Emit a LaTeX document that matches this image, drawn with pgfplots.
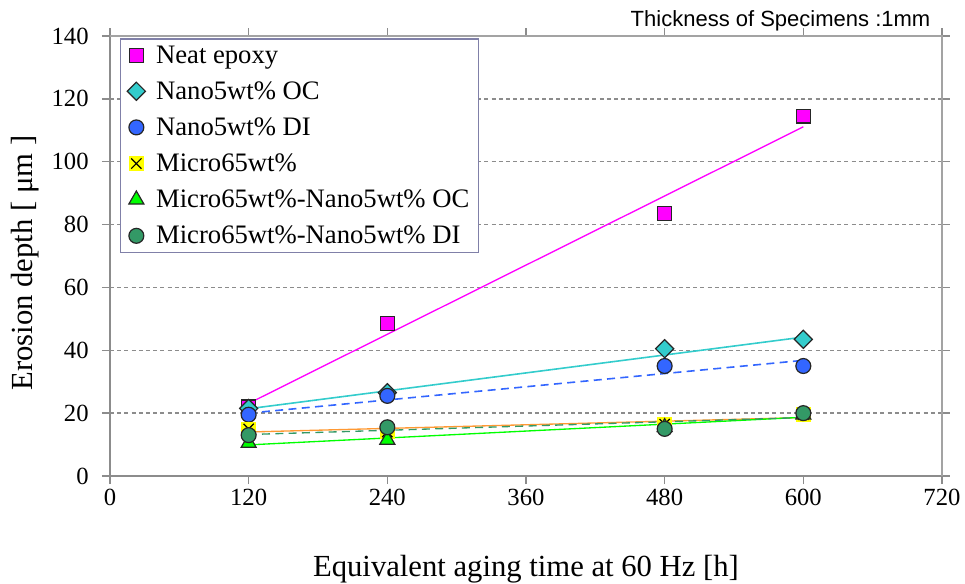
\documentclass[border=0pt]{standalone}
\usepackage{fontspec}
\setmainfont{Liberation Serif}
\setsansfont{Liberation Sans}
\usepackage{pgfplots}
\pgfplotsset{compat=1.18}

\definecolor{neat}{HTML}{FF00FF}
\definecolor{oc}{HTML}{33CCCC}
\definecolor{di}{HTML}{3366FF}
\definecolor{micro}{HTML}{FFFF00}
\definecolor{mnoc}{HTML}{00FF00}
\definecolor{mndi}{HTML}{339966}
\definecolor{trendor}{HTML}{FF9933}
\definecolor{axgray}{HTML}{8C8C8C}
\definecolor{legframe}{HTML}{8080A8}

% yellow square with black cross (Micro65wt%)
\pgfdeclareplotmark{ysq}{%
  \pgfpathrectangle{\pgfqpoint{-\pgfplotmarksize}{-\pgfplotmarksize}}{\pgfqpoint{2\pgfplotmarksize}{2\pgfplotmarksize}}%
  \pgfsetfillcolor{micro}\pgfusepathqfill
  \pgfsetstrokecolor{black}%
  \pgfpathmoveto{\pgfqpoint{-.7\pgfplotmarksize}{-.7\pgfplotmarksize}}%
  \pgfpathlineto{\pgfqpoint{.7\pgfplotmarksize}{.7\pgfplotmarksize}}%
  \pgfpathmoveto{\pgfqpoint{-.7\pgfplotmarksize}{.7\pgfplotmarksize}}%
  \pgfpathlineto{\pgfqpoint{.7\pgfplotmarksize}{-.7\pgfplotmarksize}}%
  \pgfusepathqstroke}

\begin{document}
\begin{tikzpicture}
\useasboundingbox (-82.5pt,-80.25pt) rectangle (641.25pt,357pt);
\begin{axis}[
    at={(0,0)}, anchor=south west,
    scale only axis,
    width=624pt, height=330pt,
    xmin=0, xmax=720, ymin=0, ymax=140,
    xtick={0,120,...,720}, ytick={0,20,...,140},
    /pgf/number format/assume math mode=true,
    tick label style={font=\fontsize{18.5}{20}\selectfont},
    yticklabel style={xshift=-6.5pt},
    tick align=outside, major tick length=6pt,
    tick style={axgray, line width=1pt},
    axis line style={axgray, line width=1pt},
    ymajorgrids,
    grid style={axgray, line width=1pt, dash pattern=on 3pt off 2.4pt},
    xlabel={Equivalent aging time at 60 Hz [h]},
    ylabel={Erosion depth [ μm ]},
    label style={font=\fontsize{23}{26}\selectfont},
    xlabel style={at={(axis description cs:0.5,0)}, anchor=center, yshift=-70pt},
    ylabel style={at={(axis description cs:-0.1022,0.484)}, anchor=center},
    legend style={at={(0.012,0.995)}, anchor=north west,
        draw=legframe, line width=1pt, fill=white,
        font=\fontsize{20}{22}\selectfont,
        row sep=8.3pt, inner xsep=5pt, inner ysep=3pt,
        cells={anchor=west}},
    legend cell align=left,
    clip=false,
]
% trend lines (least-squares fits of the read points)
\addplot[neat, line width=1pt, forget plot] coordinates {(120,23.1)(600,111.1)};
\addplot[oc, line width=1.2pt, forget plot] coordinates {(120,21.4)(600,44.2)};
\addplot[di, line width=1.2pt, dash pattern=on 6pt off 4pt, forget plot] coordinates {(120,20.0)(600,36.8)};
\addplot[trendor, line width=1pt, forget plot] coordinates {(120,14.0)(600,18.6)};
\addplot[mnoc, line width=1pt, forget plot] coordinates {(120,9.9)(600,18.7)};
\addplot[mndi, line width=1pt, dash pattern=on 6pt off 4pt, forget plot] coordinates {(120,13.2)(600,18.6)};

% measured points
\addplot[only marks, mark=square*, mark size=5.2pt,
    mark options={fill=neat, draw=black!85, line width=0.9pt}]
    coordinates {(120,22)(240,48.5)(480,83.5)(600,114.5)};
\addlegendentry{\hspace{6pt}Neat epoxy}
\addplot[only marks, mark=square*, mark size=4.8pt,
    mark options={rotate=45, fill=oc, draw=black!85, line width=0.9pt}]
    coordinates {(120,21.5)(240,26.5)(480,40.5)(600,43.5)};
\addlegendentry{\hspace{6pt}Nano5wt\% OC}
\addplot[only marks, mark=*, mark size=5.6pt,
    mark options={fill=di, draw=black!85, line width=0.9pt}]
    coordinates {(120,19.5)(240,25.5)(480,35)(600,35)};
\addlegendentry{\hspace{6pt}Nano5wt\% DI}
\addplot[only marks, mark=ysq, mark size=5.5pt,
    mark options={line width=0.9pt}]
    coordinates {(120,15)(240,14)(480,16.5)(600,19.5)};
\addlegendentry{\hspace{6pt}Micro65wt\%}
\addplot[only marks, mark=triangle*, mark size=6.5pt,
    mark options={fill=mnoc, draw=black!85, line width=0.9pt}]
    coordinates {(120,10.5)(240,11.5)(480,15.5)(600,19.5)};
\addlegendentry{\hspace{6pt}Micro65wt\%-Nano5wt\% OC}
\addplot[only marks, mark=*, mark size=5.6pt,
    mark options={fill=mndi, draw=black!85, line width=0.9pt}]
    coordinates {(120,13)(240,15.5)(480,15)(600,20)};
\addlegendentry{\hspace{6pt}Micro65wt\%-Nano5wt\% DI}

% plot area frame (top and right)
\draw[axgray!80, line width=1pt] (rel axis cs:0,1) -- (rel axis cs:1,1) -- (rel axis cs:1,0);
\end{axis}
\node[anchor=base east, font=\sffamily\fontsize{16.5}{18}\selectfont] at (618.75pt,336.75pt) {Thickness of Specimens :1mm};
\end{tikzpicture}
\end{document}
